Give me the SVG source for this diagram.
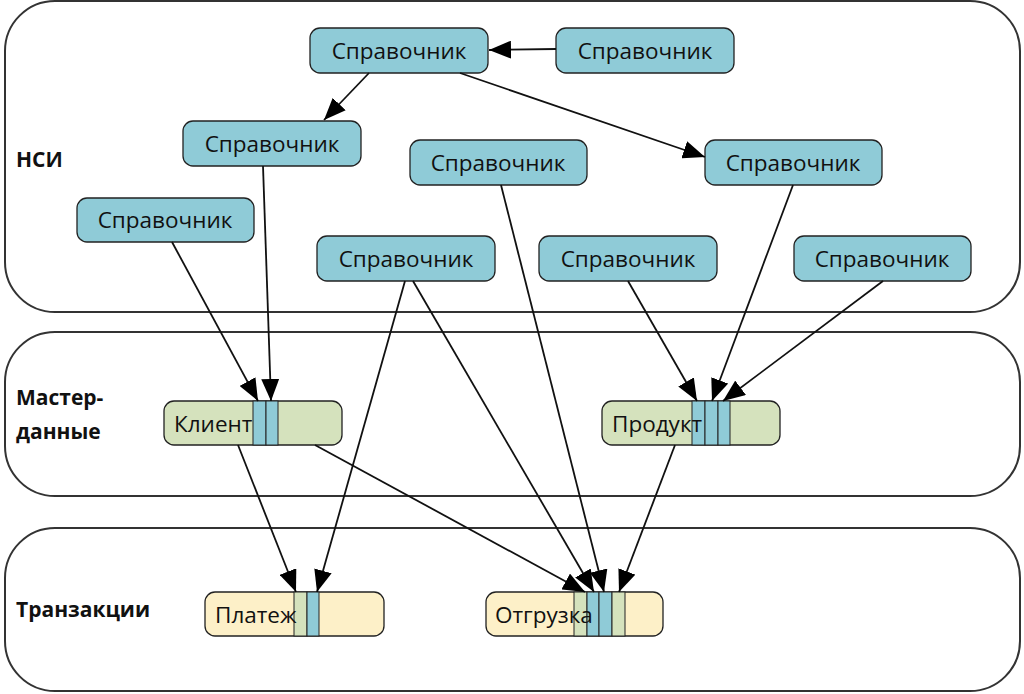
<svg xmlns="http://www.w3.org/2000/svg" width="1024" height="694" viewBox="0 0 1024 694">
<defs>
<style>
.lane{fill:#fff;stroke:#333;stroke-width:2}
.ref{fill:#8fcbd7;stroke:#222;stroke-width:1.3}
.md{fill:#d5e2bd;stroke:#222;stroke-width:1.3}
.tr{fill:#fdf0c8;stroke:#222;stroke-width:1.3}
.sb{fill:#8fcbd7;stroke:#222;stroke-width:1}
.sg{fill:#d5e2bd;stroke:#222;stroke-width:1}
.t{font-family:"Open Sans",sans-serif;font-size:22.5px;fill:#111}
.lbl{font-family:"Open Sans",sans-serif;font-size:21px;font-weight:bold;fill:#111}
.c line{stroke:#111;stroke-width:1.8;marker-end:url(#ah)}
</style>
<marker id="ah" markerUnits="userSpaceOnUse" markerWidth="22" markerHeight="18" viewBox="0 0 22 18" refX="22" refY="9" orient="auto">
<path d="M0,0 L22,9 L0,18 Z" fill="#000"/>
</marker>
</defs>
<g id="lanes">
<rect class="lane" x="5" y="1" width="1015" height="311" rx="50"/>
<rect class="lane" x="5" y="332" width="1015" height="164" rx="50"/>
<rect class="lane" x="5" y="528" width="1015" height="163" rx="50"/>
<text class="lbl" x="16" y="167">НСИ</text>
<text class="lbl" x="16" y="405">Мастер-</text>
<text class="lbl" x="16" y="439">данные</text>
<text class="lbl" x="16" y="617">Транзакции</text>
</g>
<g id="ref1"><rect class="ref" x="310" y="28" width="178" height="45" rx="10"/><text class="t" x="399" y="59" text-anchor="middle">Справочник</text></g>
<g id="ref2"><rect class="ref" x="556" y="28" width="178" height="45" rx="10"/><text class="t" x="645" y="59" text-anchor="middle">Справочник</text></g>
<g id="ref3"><rect class="ref" x="183" y="121" width="178" height="45" rx="10"/><text class="t" x="272" y="152" text-anchor="middle">Справочник</text></g>
<g id="ref4"><rect class="ref" x="410" y="140" width="177" height="45" rx="10"/><text class="t" x="498" y="171" text-anchor="middle">Справочник</text></g>
<g id="ref5"><rect class="ref" x="705" y="140" width="177" height="45" rx="10"/><text class="t" x="793" y="171" text-anchor="middle">Справочник</text></g>
<g id="ref6"><rect class="ref" x="77" y="198" width="177" height="44" rx="10"/><text class="t" x="165" y="228" text-anchor="middle">Справочник</text></g>
<g id="ref7"><rect class="ref" x="317" y="236" width="178" height="45" rx="10"/><text class="t" x="406" y="267" text-anchor="middle">Справочник</text></g>
<g id="ref8"><rect class="ref" x="539" y="236" width="178" height="45" rx="10"/><text class="t" x="628" y="267" text-anchor="middle">Справочник</text></g>
<g id="ref9"><rect class="ref" x="794" y="236" width="177" height="45" rx="10"/><text class="t" x="882" y="267" text-anchor="middle">Справочник</text></g>
<g id="client">
<rect class="md" x="164" y="401" width="178" height="44" rx="10"/>
<rect class="sb" x="253" y="401" width="13" height="44"/>
<rect class="sb" x="266" y="401" width="12" height="44"/>
<text class="t" x="174" y="432">Клиент</text>
</g>
<g id="product">
<rect class="md" x="602" y="401" width="178" height="44" rx="10"/>
<rect class="sb" x="692" y="401" width="13" height="44"/>
<rect class="sb" x="705" y="401" width="13" height="44"/>
<rect class="sb" x="718" y="401" width="12" height="44"/>
<text class="t" x="612" y="432">Продукт</text>
</g>
<g id="payment">
<rect class="tr" x="205" y="592" width="179" height="44" rx="10"/>
<rect class="sg" x="294" y="592" width="13" height="44"/>
<rect class="sb" x="307" y="592" width="12" height="44"/>
<text class="t" x="215" y="623">Платеж</text>
</g>
<g id="shipment">
<rect class="tr" x="486" y="592" width="177" height="44" rx="10"/>
<rect class="sg" x="574" y="592" width="13" height="44"/>
<rect class="sb" x="587" y="592" width="12" height="44"/>
<rect class="sb" x="599" y="592" width="13" height="44"/>
<rect class="sg" x="612" y="592" width="13" height="44"/>
<text class="t" x="495" y="623">Отгрузка</text>
</g>
<g id="connectors" class="c">
<line x1="556" y1="49" x2="489" y2="50"/>
<line x1="369" y1="73" x2="324" y2="120"/>
<line x1="460" y1="73" x2="705" y2="157"/>
<line x1="263" y1="166" x2="271" y2="401"/>
<line x1="172" y1="242" x2="258" y2="401"/>
<line x1="501" y1="185" x2="604" y2="592"/>
<line x1="405" y1="281" x2="317" y2="592"/>
<line x1="413" y1="281" x2="594" y2="592"/>
<line x1="628" y1="281" x2="697" y2="401"/>
<line x1="793" y1="185" x2="712" y2="401"/>
<line x1="883" y1="281" x2="723" y2="401"/>
<line x1="238" y1="445" x2="296" y2="592"/>
<line x1="315" y1="445" x2="585" y2="592"/>
<line x1="675" y1="445" x2="619" y2="592"/>
</g>
</svg>
